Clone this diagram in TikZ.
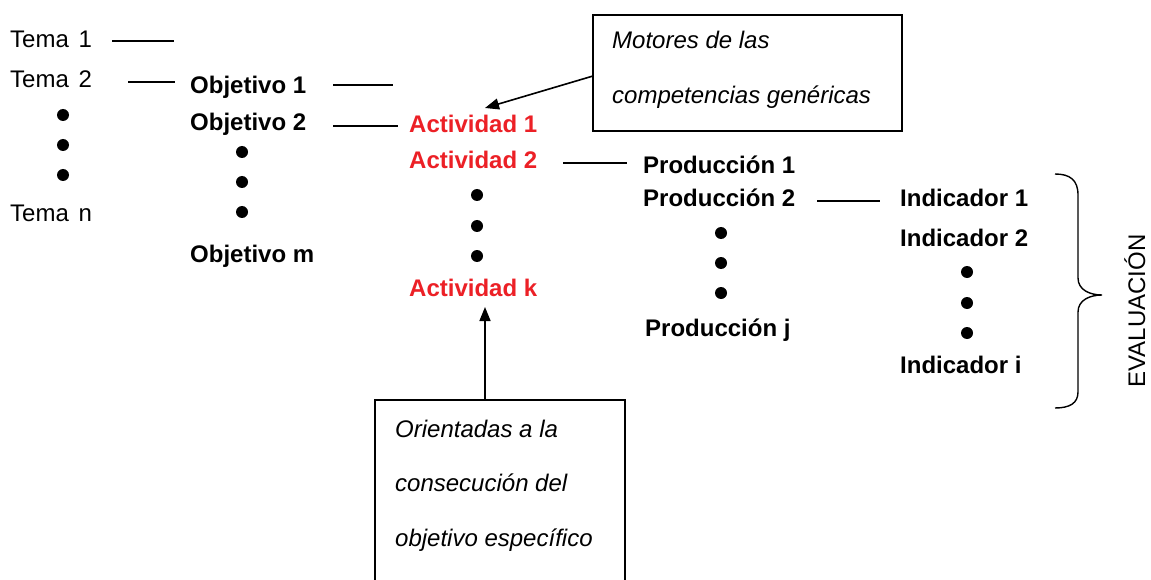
\documentclass[tikz,border=0pt]{standalone}
\usepackage{fontspec}
\setmainfont{Liberation Sans}
\usetikzlibrary{arrows.meta}
\definecolor{actred}{RGB}{236,32,38}
\begin{document}
\begin{tikzpicture}[x=1pt,y=-1pt,
  lbl/.style={anchor=base west,inner sep=0pt,font=\fontsize{24}{28}\selectfont},
  bl/.style={lbl,font=\fontsize{24}{28}\selectfont\bfseries},
  act/.style={bl,text=actred},
  note/.style={lbl,font=\fontsize{24}{28}\selectfont\itshape},
  conn/.style={line width=1.6pt},
  arr/.style={line width=1.6pt,-{Triangle[length=14pt,width=11pt]}},
  dot/.style={circle,fill=black,inner sep=0pt,minimum size=12pt}]
\useasboundingbox (0,0) rectangle (1151,580);
\fill[white] (0,0) rectangle (1151,580);
\clip (0,0) rectangle (1151,580);
% Temas
\node[lbl] (t1) at (10,48) {Tema\ \kern3pt 1};
\node[lbl] (t2) at (10,88) {Tema\ \kern3pt 2};
\node[lbl] (tn) at (10,222) {Tema\ \kern3pt n};
\node[dot] (td1) at (63,115) {};
\node[dot] (td2) at (63,145) {};
\node[dot] (td3) at (63,175) {};
% Objetivos
\node[bl] (o1) at (190,94) {Objetivo 1};
\node[bl] (o2) at (190,131) {Objetivo 2};
\node[bl] (om) at (190,262) {Objetivo m};
\node[dot] (od1) at (242,152) {};
\node[dot] (od2) at (242,182) {};
\node[dot] (od3) at (242,212) {};
% Actividades
\node[act] (a1) at (409,133) {Actividad 1};
\node[act] (a2) at (409,169) {Actividad 2};
\node[act] (ak) at (409,296) {Actividad k};
\node[dot] (ad1) at (477,195) {};
\node[dot] (ad2) at (477,226) {};
\node[dot] (ad3) at (477,256) {};
% Producciones
\node[bl] (p1) at (643,174) {Producción 1};
\node[bl] (p2) at (643,207) {Producción 2};
\node[bl] (pj) at (645,336) {Producción j};
\node[dot] (pd1) at (721,233) {};
\node[dot] (pd2) at (721,263) {};
\node[dot] (pd3) at (721,293) {};
% Indicadores
\node[bl] (i1) at (900,207) {Indicador 1};
\node[bl] (i2) at (900,247) {Indicador 2};
\node[bl] (ii) at (900,373) {Indicador i};
\node[dot] (id1) at (967,272) {};
\node[dot] (id2) at (967,303) {};
\node[dot] (id3) at (967,333) {};
% connector lines
\coordinate (c1a) at (112,41); \coordinate (c1b) at (174,41);
\coordinate (c2a) at (128,82); \coordinate (c2b) at (175,82);
\coordinate (c3a) at (333,85); \coordinate (c3b) at (393,85);
\coordinate (c4a) at (333,126); \coordinate (c4b) at (398,126);
\coordinate (c5a) at (563,163); \coordinate (c5b) at (627,163);
\coordinate (c6a) at (817,201); \coordinate (c6b) at (880,201);
\draw[conn] (c1a) -- (c1b);
\draw[conn] (c2a) -- (c2b);
\draw[conn] (c3a) -- (c3b);
\draw[conn] (c4a) -- (c4b);
\draw[conn] (c5a) -- (c5b);
\draw[conn] (c6a) -- (c6b);
% top note box
\draw[line width=1.6pt] (593,15) rectangle (902,131);
\node[note] (m1) at (612,49) {Motores de las};
\node[note] (m2) at (612,104) {competencias genéricas};
\coordinate (mfrom) at (593,76);
\coordinate (mto) at (485,108);
\draw[arr] (mfrom) -- (mto);
% bottom note box (cut off at bottom)
\coordinate (bb1) at (375,600); \coordinate (bb2) at (375,400);
\coordinate (bb3) at (625,400); \coordinate (bb4) at (625,600);
\draw[line width=1.6pt] (bb1) -- (bb2) -- (bb3) -- (bb4);
\node[note] (n1) at (395,437) {Orientadas a la};
\node[note] (n2) at (395,491) {consecución del};
\node[note] (n3) at (395,546) {objetivo específico};
\coordinate (nfrom) at (485,399);
\coordinate (nto) at (485,307);
\draw[arr] (nfrom) -- (nto);
% brace
\draw[line width=1.4pt] (1055,174) .. controls (1070,174) and (1078,180) .. (1078,195)
  -- (1078,278) .. controls (1078,290) and (1090,295) .. (1102,295)
  .. controls (1090,295) and (1078,300) .. (1078,312)
  -- (1078,392) .. controls (1078,403) and (1070,408) .. (1055,408);
\node[inner sep=0pt,rotate=90,anchor=base,font=\fontsize{24}{28}\selectfont] (ev) at (1145,311) {EVALUACIÓN};
\end{tikzpicture}
\end{document}
